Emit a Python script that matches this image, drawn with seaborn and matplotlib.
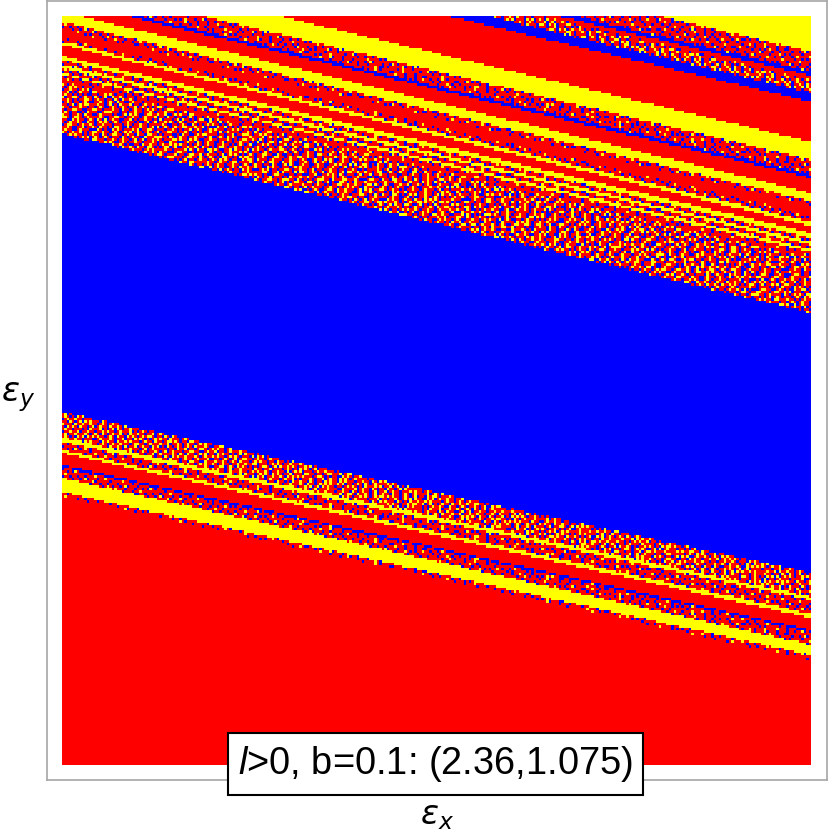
import numpy as np
import matplotlib
matplotlib.use("Agg")
import matplotlib.pyplot as plt
from matplotlib.colors import ListedColormap
from matplotlib.patches import Rectangle
import seaborn as sns

# Basin colours: 0 red, 1 yellow, 2 blue
BASIN_COLORS = ["#ff0000", "#ffff00", "#0000ff"]
CODES = {"R": 0, "Y": 1, "B": 2}
GRID_SIZE = 300

# Stripes from top to bottom.
# R/Y/B = solid basin, d/e = dense mix, s = blue speckle, m = yellow speckle
band_kinds = list("YsBRmBRYsBRYsRsYRYsYsYsRdBeYsYRBsYsR")
# Lower edge of each stripe at the left and at the right side (image pixels)
band_left = [-124, -104, -101, -98, -84, -75, -35, -17, -2, 1, 12, 22, 30, 38, 42, 45, 56, 60,
             65, 68, 73, 75, 80, 82, 134, 412, 438, 442, 450, 453, 465, 467, 478, 492, 496, 1000]
band_right = [52, 72, 76, 80, 93, 102, 142, 160, 175, 178, 193, 201, 205, 215, 222, 226, 233, 238,
              242, 245, 249, 252, 256, 258, 313, 573, 597, 600, 614, 618, 630, 632, 645, 655, 660, 1000]

# The speckle is far too fine to read cell by cell: these short typed tiles
# only stand in for its texture, and are repeated over the speckled stripes.
dense_tile = [
    "RYRBRRYRBRYRRBYRBYRBRYRRBRYBRRYBRRYRB",
    "YRRBRYYRBBRYRBRYRYRRBRYRBBRRYRYRBRYYRRB",
    "YYRBRRYRRBYRRBRRYRBRBYYRBRRYBRYRRBYRR",
    "RRBBYRYRBRRYRRBYRRBBYRRBRYYRRBRBBYRRYRY",
    "RBRYRRBRYBRRYBYRBRRBRYRRBRBRYRBRYBRRY",
    "BRYYRBRRYRRBBYRRYRBRYYRBYRRBRYRRBRRYRRB",
    "RRYRBBRYRRBRYRRBYRRBRRBRYRBRRYRBYRRYRBR",
    "RYRRBRRYBRBRYYRBRYRRYRBRYRRBBRYRRBYRYR",
    "YRBRYYRRBRYBRYRRRBRYRBRYRBRYRBRRBRYRYRB",
    "RBRYRRBRYRRBYRBRRYBBYRRBYRBRYRRBRYRRBRY",
    "BRRYRBRYRRBBRYRBRYRRBYYRRBRYBRBRYRBRYR",
    "RRYBRRBRBYRRBRYRRBRYRBBYRRBRRYRRBRYYRBR",
    "RYRRBYRBRYYRBRRYRBRYBRBRYRRBRYRRBRRYR",
    "YBRRYRBRRYRBBRYRRBBRYRRBYRBRRYRBBRYRRYB",
    "RRYRBRRBRYYRRBRYRBRRYRRBRRBYRYRBRYRRBRB",
    "BRYRBBRYRRBRRYRRBRYYRRBBRYRRYRBRRYRBRY",
    "RRBRYRRYRBRRYRBBRYRRBRYRRBRYBRRBBRYRR",
    "YRRBRYRRBBYRRBRYRRBRRYRBBRYRRBRYRRBRYB",
    "RBRRYRBBRYRRBRRYRBBRYRRBRRYRBRRYRRBYRB",
]
fine_dense_tile = [
    "RYRBRYRRBYRYRRBRYRBYRRYRBRRYBRYRRB",
    "BRYRRBRYBRRYRBRYRRBRYBRYRRBYRRBRYRY",
    "RRBYRYRRYRBRYRRYBRYRRBRYBRYRYRRYRB",
    "YRRRBRBYRRBYRBRRYRBRYRYRRBRRBYRBRYR",
    "RBYRYRRRBRYRRYRBYRRYRBRRYBRYRRYRRB",
    "RYRRBRYBRYRBRRYRRBRYRBYRRYRBRYBRYRR",
    "BRRYRYRRRBYRYBRYRRYRRBRYRRBRRYRBRY",
    "RYBRRBYRYRRRBRRBYRBRYRYRBYRYRRBRYRB",
]
blue_speckle_tile = [
    "RRBRRRBRRYRBRRRRBRRRYBRRRBRRB",
    "BRRRRYRBRRRBRYRRRBRRRBRRYRRRBR",
    "RRBRBRRRRBRRRRBRRYRBRRBRRRBRRR",
    "RYRRRRBRRYBRRBRRRRBRRRRBRYRRRB",
    "BRRBRRRBRRRRYRRBRRYRBRRRRBRRBR",
    "RRRRBRYRRBRBRRRRBRRRRYBRBRRRRB",
    "RBRRRRRBRRRRYRBRRBRRBRRRRRYBRR",
    "RRYRBRRRBRRBRRRRYRRRBRRBRRRRBR",
    "BRRRRBRYRRRRBRBRRRBRYRRRRBRRR",
]
yellow_speckle_tile = [
    "RYBRRYRBYRRBYRRBRRYRBYRYBRRYB",
    "YRBRRRYBRYRBRYRRBYRRBRYRBYRRY",
    "BRRYRBYRRRBRYBRYRRBRRYBYRRBRYR",
    "RYBRRYRRYYRBRRYBRYRBRRRYBRYRB",
    "YRRBYRBRRBRYYRBRRRRBYRYBRRRRY",
    "RBRRYRRBYRRBRRYBRYRYBRRYBRRBR",
]
tiles = {"d": dense_tile, "e": fine_dense_tile, "s": blue_speckle_tile, "m": yellow_speckle_tile}

x_label = r"$\epsilon_x$"
y_label = r"$\epsilon_y$"
title_text = r"$\mathit{l}$>0, b=0.1: (2.36,1.075)"


def build_grid():
    """Fill the basin grid stripe by stripe, following the band edges."""
    grid = np.zeros((GRID_SIZE, GRID_SIZE), dtype=int)
    left = np.array(band_left, dtype=float)
    right = np.array(band_right, dtype=float)
    for col in range(GRID_SIZE):
        frac = (col + 0.5) / GRID_SIZE
        edges = left + (right - left) * frac
        for row in range(GRID_SIZE):
            y_px = 16 + (row + 0.5) * 749 / GRID_SIZE
            kind = band_kinds[min(np.searchsorted(edges, y_px), len(band_kinds) - 1)]
            if kind in CODES:
                grid[row, col] = CODES[kind]
            else:
                tile = tiles[kind]
                line = tile[(row - int(col * 0.235)) % len(tile)]
                grid[row, col] = CODES[line[col % len(line)]]
    return grid


W, H = 830, 835
sns.set_theme(style="white")
plt.rcParams["font.family"] = ["Liberation Sans", "DejaVu Sans"]
plt.rcParams["mathtext.fontset"] = "custom"
plt.rcParams["mathtext.rm"] = "Liberation Sans"
plt.rcParams["mathtext.it"] = "Liberation Sans:italic"

fig = plt.figure(figsize=(W / 100, H / 100), dpi=100, facecolor="white")

# Outer gray frame
frame_ax = fig.add_axes([47 / W, (H - 780) / H, 780 / W, 779 / H])
frame_ax.set_xticks([])
frame_ax.set_yticks([])
for spine in frame_ax.spines.values():
    spine.set_color("#a6a6a6")
    spine.set_linewidth(1.2)

ax = fig.add_axes([62 / W, (H - 765) / H, 749 / W, 749 / H])
sns.heatmap(build_grid(), cmap=ListedColormap(BASIN_COLORS), vmin=0, vmax=2, cbar=False,
            xticklabels=False, yticklabels=False, ax=ax)
ax.set_xlabel("")
ax.set_ylabel("")

# Boxed label across the bottom of the frame
fig.add_artist(Rectangle((227.5 / W, (H - 795) / H), 415 / W, 62 / H, transform=fig.transFigure,
                         facecolor="white", edgecolor="black", linewidth=1.5, zorder=5))
fig.text(435 / W, (H - 764) / H, title_text, fontsize=27.4, ha="center", va="center",
         color="black", zorder=6)

fig.text(437 / W, (H - 817) / H, x_label, fontsize=24, ha="center", va="center",
         math_fontfamily="dejavusans", color="black")
fig.text(18 / W, (H - 397) / H, y_label, fontsize=24, ha="center", va="center",
         math_fontfamily="dejavusans", color="black")

fig.savefig("out.png", dpi=100, facecolor="white")
